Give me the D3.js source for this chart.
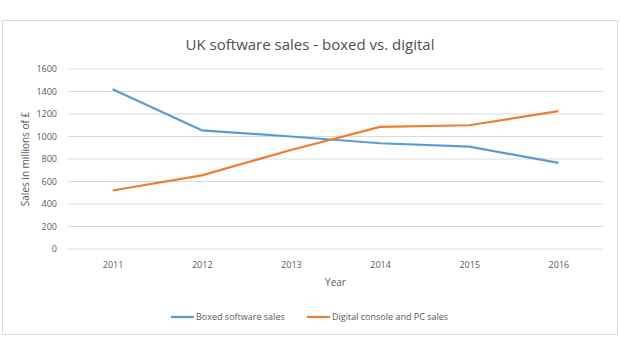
<!DOCTYPE html>
<html>
<head>
<meta charset="utf-8">
<script src="https://cdn.jsdelivr.net/npm/d3@7"></script>
<style>
  body { margin: 0; background: #fff; }
  svg { display: block; font-family: 'Open Sans', 'Noto Sans', sans-serif; }
</style>
</head>
<body>
<div id="chart"></div>
<script>
const years = ['2011', '2012', '2013', '2014', '2015', '2016'];
const boxedSales = [1420, 1055, 1000, 940, 910, 765];
const digitalSales = [520, 655, 880, 1085, 1100, 1225];
const yTicks = [0, 200, 400, 600, 800, 1000, 1200, 1400, 1600];
const seriesNames = ['Boxed software sales', 'Digital console and PC sales'];
const seriesColors = ['#5b9bd5', '#ed7d31'];

const width = 620, height = 350;
const margin = { top: 69, right: 17, bottom: 101, left: 68 };
const innerW = width - margin.left - margin.right;
const innerH = height - margin.top - margin.bottom;
const textColor = '#595959';

const svg = d3.select('#chart').append('svg')
  .attr('width', width).attr('height', height);

// outer chart frame
svg.append('rect')
  .attr('x', 2.5).attr('y', 20.5).attr('width', 615).attr('height', 314)
  .attr('fill', '#fff').attr('stroke', '#d9d9d9');

svg.append('text')
  .attr('x', width / 2).attr('y', 50)
  .attr('text-anchor', 'middle')
  .attr('fill', '#505050').attr('font-size', 15)
  .text('UK software sales - boxed vs. digital');

const g = svg.append('g').attr('transform', `translate(${margin.left},${margin.top})`);

const x = d3.scalePoint().domain(years).range([0, innerW]).padding(0.5);
const y = d3.scaleLinear().domain([0, 1600]).range([innerH, 0]);

// gridlines
g.selectAll('line.grid').data(yTicks).join('line')
  .attr('class', 'grid')
  .attr('x1', 0).attr('x2', innerW)
  .attr('y1', d => y(d)).attr('y2', d => y(d))
  .attr('stroke', '#d9d9d9').attr('stroke-width', 1);

const yAxis = g.append('g')
  .call(d3.axisLeft(y).tickValues(yTicks).tickFormat(d3.format('d')).tickSize(0).tickPadding(11));
yAxis.select('.domain').remove();
yAxis.selectAll('text').attr('fill', textColor).attr('font-size', 9)
  .attr('font-family', "'Open Sans', sans-serif");

const xAxis = g.append('g').attr('transform', `translate(0,${innerH})`)
  .call(d3.axisBottom(x).tickSize(0).tickPadding(13));
xAxis.select('.domain').remove();
xAxis.selectAll('text').attr('fill', textColor).attr('font-size', 9)
  .attr('font-family', "'Open Sans', sans-serif");

svg.append('text')
  .attr('x', margin.left + innerW / 2).attr('y', 286)
  .attr('text-anchor', 'middle').attr('fill', textColor).attr('font-size', 10)
  .text('Year');

svg.append('text')
  .attr('transform', `translate(29,${margin.top + innerH / 2}) rotate(-90)`)
  .attr('text-anchor', 'middle').attr('fill', textColor).attr('font-size', 10)
  .text('Sales in millions of £');

const line = d3.line().x((d, i) => x(years[i])).y(d => y(d));

[boxedSales, digitalSales].forEach((vals, i) => {
  g.append('path')
    .datum(vals)
    .attr('d', line)
    .attr('fill', 'none')
    .attr('stroke', seriesColors[i])
    .attr('stroke-width', 2.25)
    .attr('stroke-linejoin', 'round');
});

// legend
const legendX = [171, 307];
const legend = svg.selectAll('g.legend').data(seriesNames).join('g')
  .attr('class', 'legend')
  .attr('transform', (d, i) => `translate(${legendX[i]},317)`);
legend.append('line')
  .attr('x1', 0).attr('x2', 23)
  .attr('stroke', (d, i) => seriesColors[i]).attr('stroke-width', 2.25);
legend.append('text')
  .attr('x', 25).attr('dy', '0.35em')
  .attr('fill', textColor).attr('font-size', 9)
  .text(d => d);
</script>
</body>
</html>
